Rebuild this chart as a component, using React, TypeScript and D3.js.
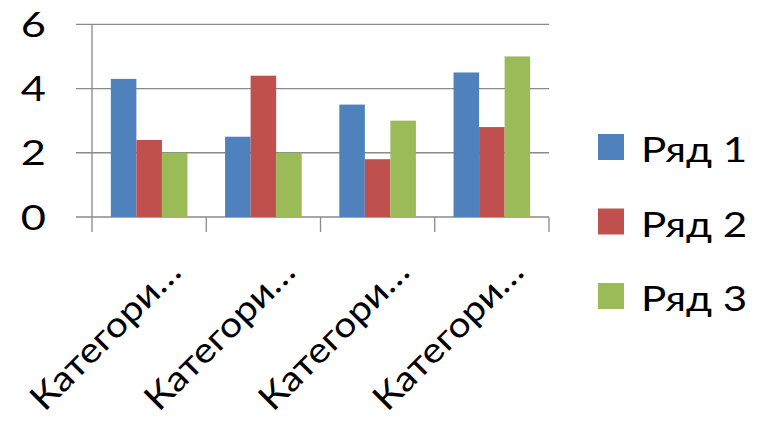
import React from 'react';
import * as d3 from 'd3';

// data
const categories = ['Категория 1', 'Категория 2', 'Категория 3', 'Категория 4'];
const seriesNames = ['Ряд 1', 'Ряд 2', 'Ряд 3'];
const row1 = [4.3, 2.5, 3.5, 4.5];
const row2 = [2.4, 4.4, 1.8, 2.8];
const row3 = [2, 2, 3, 5];
const yTicks = [0, 2, 4, 6];
const colors = ['#4F81BD', '#C0504D', '#9BBB59'];

const W = 758;
const H = 427;
const FONT = 'Lato, Carlito, Calibri, sans-serif';
const SX = 1.24; // the picture is a bit wide, text stretched horizontally

export default function App() {
  const series = [row1, row2, row3];
  const left = 92, right = 549, top = 24.3, bottom = 217;

  const y = d3.scaleLinear().domain([0, 6]).range([bottom, top]);
  const x0 = d3.scaleBand<string>()
    .domain(categories)
    .range([left, right])
    .paddingInner(0.3295)
    .paddingOuter(0.165);
  const x1 = d3.scaleBand<number>()
    .domain(d3.range(seriesNames.length))
    .range([0, x0.bandwidth()]);

  const gap = x0.step() * x0.paddingInner();
  const boundaries = categories.map(c => (x0(c) as number) - gap / 2).concat([right]);

  return (
    <svg width={W} height={H} style={{ position: 'absolute', left: 0, top: 0, background: '#fff' }}
      fontFamily={FONT}>
      {/* gridlines */}
      {yTicks.map(t => (
        <line key={t} x1={76} x2={right} y1={y(t)} y2={y(t)} stroke="#8a8a8a" strokeWidth={1.3} />
      ))}
      {/* axes + ticks */}
      <line x1={left} x2={left} y1={top} y2={bottom + 15} stroke="#8a8a8a" strokeWidth={1.3} />
      {boundaries.slice(1).map((b, i) => (
        <line key={i} x1={b} x2={b} y1={bottom} y2={bottom + 15} stroke="#8a8a8a" strokeWidth={1.3} />
      ))}
      {yTicks.map(t => (
        <text key={t} transform={`translate(46,${y(t)}) scale(${SX},1)`} dy="0.36em" textAnchor="end"
          fontSize={35} fill="#000">{t}</text>
      ))}

      {/* bars */}
      {categories.map((c, ci) => (
        <g key={c} transform={`translate(${x0(c)},0)`}>
          {series.map((s, si) => (
            <rect key={si} x={x1(si)} y={y(s[ci])} width={x1.bandwidth()} height={bottom - y(s[ci])}
              fill={colors[si]} />
          ))}
        </g>
      ))}

      {/* category labels */}
      {categories.map(c => {
        const cx = (x0(c) as number) + x0.bandwidth() / 2 + 34;
        return (
          <text key={c} transform={`translate(${cx},274) rotate(-45) scale(1.12,1)`} textAnchor="end"
            fontSize={35} fill="#000">
            Категори…
          </text>
        );
      })}

      {/* legend */}
      {seriesNames.map((n, i) => (
        <g key={n} transform={`translate(598,${134 + i * 74.5})`}>
          <rect width={26} height={26} fill={colors[i]} />
          <text transform={`translate(43,28) scale(${SX},1)`} fontSize={34} fill="#000">{n}</text>
        </g>
      ))}
    </svg>
  );
}
